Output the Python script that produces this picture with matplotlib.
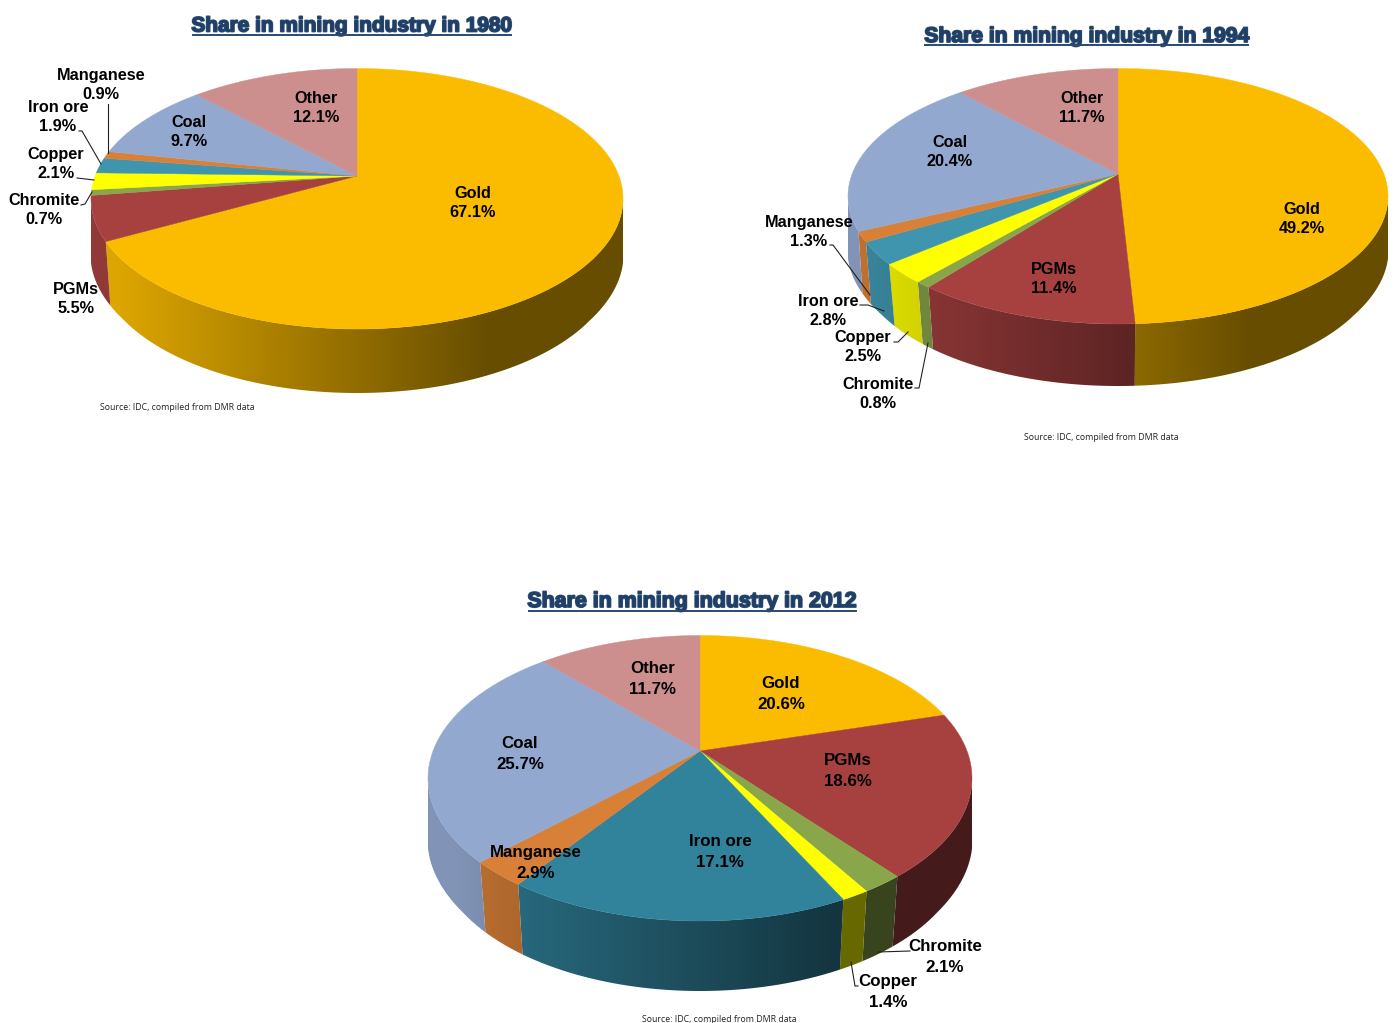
import numpy as np
import matplotlib
matplotlib.use('Agg')
import matplotlib.pyplot as plt
import matplotlib.patheffects as pe
from matplotlib.patches import Polygon

plt.rcParams['font.family'] = ['Liberation Sans', 'DejaVu Sans']

names = ['Gold', 'PGMs', 'Chromite', 'Copper', 'Iron ore', 'Manganese', 'Coal', 'Other']
share_1980 = [67.1, 5.5, 0.7, 2.1, 1.9, 0.9, 9.7, 12.1]
share_1994 = [49.2, 11.4, 0.8, 2.5, 2.8, 1.3, 20.4, 11.7]
share_2012 = [20.6, 18.6, 2.1, 1.4, 17.1, 2.9, 25.7, 11.7]

colors = ['#FBBC00', '#A64140', '#8AA64A', '#FFFF00', '#4095AE', '#D98038', '#93A8CF', '#CD8F8E']
colors_2012 = ['#FBBC00', '#A64140', '#8AA64A', '#FFFF00', '#31829B', '#D98038', '#93A8CF', '#CD8F8E']

source = 'Source: IDC, compiled from DMR data'

# layout in reference pixels
pie_1980 = dict(cx=357, cy=176, top=107.5, bottom=153, hw=266, depth=64)
pie_1994 = dict(cx=1118, cy=174, top=105.5, bottom=150, hw=270, depth=62)
pie_2012 = dict(cx=700, cy=751, top=115.5, bottom=170, hw=272, depth=70)

labels_1980 = [(473, 203), (76, 299), (44, 210), (56, 164), (58, 117), (101, 85), (189, 132), (316, 108)]
labels_1994 = [(1302, 219), (1054, 279), (878, 394), (863, 347), (828, 311), (809, 232), (950, 152), (1082, 108)]
labels_2012 = [(781, 694), (848, 771), (945, 957), (888, 992), (720, 852), (536, 863), (520, 754), (653, 679)]

leaders_1980 = [[(108, 104), (108, 153)], [(79, 131), (82, 131), (101, 164)],
                [(77, 178), (94, 180)], [(81, 205), (85, 204), (92, 192)]]
leaders_1994 = [[(830, 245), (833, 245), (870, 295)], [(860, 305), (868, 305), (884, 311)],
                [(894, 342), (898, 342), (908, 332)], [(915, 388), (919, 388), (928, 343)]]
leaders_2012 = [[(910, 951), (878, 952)], [(858, 986), (855, 986), (851, 962)]]


def tilt(p):
    return (p['bottom'] - p['top']) / (p['bottom'] + p['top'])


def project(theta, p):
    # tilted circle seen in perspective, theta clockwise from the top
    k = tilt(p)
    b = p['bottom'] * (1 - k)
    a = p['hw'] * np.sqrt(1 - k ** 2)
    u, v = np.sin(theta), -np.cos(theta)
    return a * u / (1 - k * v), b * v / (1 - k * v)


def draw_pie(ax, shares, cols, p):
    edges = np.cumsum([0] + list(shares)) / sum(shares) * 2 * np.pi
    k = tilt(p)
    # only the front part of the rim can be seen
    start = np.arccos(-k)
    nx = np.linspace(-1, 1, 256)
    shade = np.interp(nx, [-0.9, 0.5], [0.88, 0.41])
    extent = (p['cx'] - p['hw'], p['cx'] + p['hw'], p['cy'] + p['bottom'] + p['depth'] + 2, p['cy'] - 10)
    for i, col in enumerate(cols):
        t0, t1 = max(edges[i], start), min(edges[i + 1], 2 * np.pi - start)
        if t1 > t0:
            th = np.linspace(t0, t1, 200)
            x, y = project(th, p)
            # lower rim pulls in a little towards the front
            pull = 1 - 0.024 * np.clip((-np.cos(th) - k) / 0.4, 0, 1)
            xs = np.r_[x, (x * pull)[::-1]] + p['cx']
            ys = np.r_[y, y[::-1] + p['depth']] + p['cy']
            grad = shade[None, :, None] * np.array(matplotlib.colors.to_rgb(col))[None, None, :]
            im = ax.imshow(grad, extent=extent, aspect='auto', interpolation='bilinear', zorder=2)
            im.set_clip_path(Polygon(np.c_[xs, ys], closed=True, transform=ax.transData))
    for i, col in enumerate(cols):
        th = np.linspace(edges[i], edges[i + 1], 200)
        x, y = project(th, p)
        ax.fill(np.r_[0, x] + p['cx'], np.r_[0, y] + p['cy'], color=col, lw=0.3, zorder=3)


def draw_labels(ax, shares, pos, size, gap):
    for name, val, (x, y) in zip(names, shares, pos):
        ax.text(x, y, f'{name}\n{val}%', ha='center', va='center', fontsize=size,
                fontweight='bold', color='black', linespacing=gap, zorder=5)


def draw_title(ax, text, x0, x1, y, size, uy):
    t = ax.text((x0 + x1) / 2, y, text, ha='center', va='center', fontsize=size,
                fontweight='bold', color='#1F3F66', zorder=5)
    t.set_path_effects([pe.withStroke(linewidth=1.3, foreground='#2A4A72')])
    ax.plot([x0, x1], [uy, uy], color='#2A4A72', lw=1.4, zorder=5)


fig = plt.figure(figsize=(13.98, 10.23), dpi=100)
ax = fig.add_axes([0, 0, 1, 1])

draw_pie(ax, share_1980, colors, pie_1980)
draw_pie(ax, share_1994, colors, pie_1994)
draw_pie(ax, share_2012, colors_2012, pie_2012)

ax.set_xlim(0, 1398)
ax.set_ylim(1023, 0)
ax.axis('off')

draw_labels(ax, share_1980, labels_1980, 11.7, 1.27)
draw_labels(ax, share_1994, labels_1994, 11.7, 1.27)
draw_labels(ax, share_2012, labels_2012, 12.2, 1.45)

for lines in [leaders_1980, leaders_1994, leaders_2012]:
    for line in lines:
        xs, ys = zip(*line)
        ax.plot(xs, ys, color='#222222', lw=0.8, zorder=4)

draw_title(ax, 'Share in mining industry in 1980', 193, 511, 26, 15.0, 34.5)
draw_title(ax, 'Share in mining industry in 1994', 925, 1248, 36.5, 15.2, 45)
draw_title(ax, 'Share in mining industry in 2012', 529, 856, 601.5, 15.4, 610.5)

for x, y in [(100, 408), (1024, 438), (642, 1019)]:
    ax.text(x, y, source, ha='left', va='center', fontsize=6.3, family='Open Sans',
            color='#222222', zorder=5)

fig.savefig('out.png', dpi=100)
